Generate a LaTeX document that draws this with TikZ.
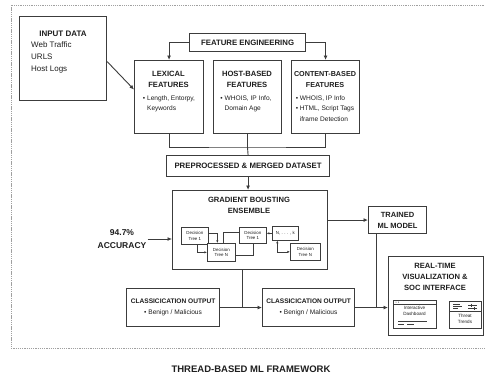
\documentclass[tikz,border=0pt]{standalone}
\usepackage{fontspec}
\setmainfont{Liberation Sans}
\usepackage{xcolor}
\usetikzlibrary{arrows.meta, positioning}

\definecolor{linegray}{HTML}{3C3C3C}
\definecolor{txtgray}{HTML}{1E1E1E}
\definecolor{framegray}{HTML}{A0A0A0}

\tikzset{
  box/.style={draw=linegray, line width=1.15pt, fill=white, anchor=north west, inner sep=0pt, align=center, text=txtgray},
  treebox/.style={draw=linegray, line width=0.65pt, fill=white, anchor=north west, inner sep=0pt, align=center, text=txtgray, font=\fontsize{4.4}{5.4}\selectfont},
  ttl/.style={font=\bfseries\fontsize{7.6}{11}\selectfont, text=txtgray, align=center, inner sep=0pt},
  txt/.style={font=\fontsize{6.6}{10.5}\selectfont, text=txtgray, align=left, inner sep=0pt},
  arr/.style={draw=linegray, line width=0.9pt, -{Latex[length=4.5pt,width=4pt]}},
  con/.style={draw=linegray, line width=0.9pt},
  tarr/.style={draw=linegray, line width=0.55pt, -{Latex[length=2.6pt,width=2.3pt]}},
  tcon/.style={draw=linegray, line width=0.55pt},
}

\begin{document}
\begin{tikzpicture}[x=1pt, y=-1pt]
    \useasboundingbox (0,0) rectangle (485,376);
    \fill[white] (0,0) rectangle (485,376);

    % frame
    \draw[framegray, line width=0.7pt, dash pattern=on 1.3pt off 0.9pt] (11,5) rectangle (495,348);

    % input data
    \node[box, minimum width=87, minimum height=84] (inp) at (19,16) {};
    \node[ttl, font=\bfseries\fontsize{8}{11}\selectfont] (inpT) at (63,34) {INPUT DATA};
    \node[txt, font=\fontsize{8}{12}\selectfont, anchor=west] (inpL) at (31,57) {Web Traffic\\URLS\\Host Logs};

    % feature engineering
    \node[box, minimum width=116, minimum height=18, font=\bfseries\fontsize{7.8}{10}\selectfont] (fe) at (189,33) {FEATURE ENGINEERING};

    \node[box, minimum width=69, minimum height=73] (lex) at (134,60) {};
    \node[ttl] (lexT) at (168.5,79.5) {LEXICAL\\FEATURES};
    \node[txt] (lexL) at (169,104) {• Length, Entorpy,\\\hphantom{• }Keywords};

    \node[box, minimum width=68, minimum height=73] (host) at (213,60) {};
    \node[ttl] (hostT) at (247,79.5) {HOST-BASED\\FEATURES};
    \node[txt] (hostL) at (246,104) {• WHOIS, IP Info,\\\hphantom{• }Domain Age};

    \node[box, minimum width=68, minimum height=73] (cont) at (291,60) {};
    \node[ttl, font=\bfseries\fontsize{7.2}{11}\selectfont] (contT) at (325,79.5) {CONTENT-BASED\\FEATURES};
    \node[txt] (contL) at (325,108.5) {• WHOIS, IP Info\\• HTML, Script Tags\\\hphantom{• }iframe Detection};

    \coordinate (inpA) at ([yshift=-3pt]inp.east);
    \draw[arr] (inpA) -- ([yshift=7.5pt]lex.west);
    \draw[arr] (fe.west) -| (lex.north);
    \draw[arr] (fe.east) -| (cont.north);

    % merge
    \coordinate (fuse) at (247.5,147);
    \draw[con] (lex.south) |- (fuse) -| (cont.south);
    \draw[con] (host.south) -- (host.south |- fuse);

    \node[box, minimum width=163, minimum height=21, font=\bfseries\fontsize{7.8}{10}\selectfont] (prep) at (166,155) {PREPROCESSED \& MERGED DATASET};
    \draw[con] (fuse) -- (prep.north);

    % gradient boosting
    \node[box, minimum width=155, minimum height=79] (gbe) at (172,190) {};
    \node[ttl] (gbeT) at (249,205) {GRADIENT BOUSTING\\ENSEMBLE};
    \draw[arr] (prep.south) -- (prep.south |- gbe.north);

    \node[treebox, minimum width=27, minimum height=17] (t1a) at (181,227) {Decision\\Tree 1};
    \node[treebox, minimum width=28, minimum height=18] (tna) at (207,243) {Decision\\Tree N};
    \node[treebox, minimum width=27, minimum height=16] (t1b) at (239,227) {Decision\\Tree 1};
    \node[treebox, minimum width=26, minimum height=14] (tnk) at (272,226) {N, . . . , k};
    \node[treebox, minimum width=30, minimum height=17] (tnb) at (290,243) {Decision\\Tree N};

    \draw[tarr] ([yshift=3pt]t1a.east) -| ([xshift=-4pt]tna.north);
    \draw[tarr] ([xshift=2.5pt]t1a.south) |- (tna.west);
    \draw[tcon] ([xshift=2pt]tna.north) |- ([yshift=3pt]t1b.west);
    \draw[tcon] ([yshift=-3pt]tna.east) -| (t1b.south);
    \draw[tarr] (tnk.west) -- (tnk.west -| t1b.east);
    \draw[tarr, {Latex[length=2.6pt,width=2.3pt]}-{Latex[length=2.6pt,width=2.3pt]}] ([xshift=-8pt]tnk.south) |- (tnb.west);

    % accuracy
    \node[ttl, font=\bfseries\fontsize{8.5}{13}\selectfont] (acc) at (122,239) {94.7\%\\ACCURACY};
    \draw[arr] ([xshift=1pt]acc.east) -- (acc.east -| gbe.west);

    % trained model
    \node[box, minimum width=58, minimum height=27, font=\bfseries\fontsize{7.5}{11}\selectfont] (tml) at (368,206) {TRAINED\\ML MODEL};
    \draw[arr] (gbe.east |- tml.west) -- (tml.west);

    % classification
    \node[box, minimum width=93, minimum height=38, font=\fontsize{6.6}{11}\selectfont] (cl1) at (126,288) {\textbf{CLASSICICATION OUTPUT}\\• Benign / Malicious};
    \node[box, minimum width=92, minimum height=38, font=\fontsize{6.6}{11}\selectfont] (cl2) at (262,288) {\textbf{CLASSICICATION OUTPUT}\\• Benign / Malicious};

    % real-time interface
    \node[box, minimum width=95, minimum height=79] (rt) at (388,256) {};
    \node[ttl] (rtT) at (435,277) {REAL-TIME\\VISUALIZATION \&\\SOC INTERFACE};

    \coordinate (j1) at (242,307);
    \coordinate (j2) at (376,307);
    \draw[con] (gbe.south -| j1) -- (j1);
    \draw[arr] (cl1.east) -- (cl2.west);
    \draw[con] (tml.south -| j2) -- (j2);
    \draw[arr] (cl2.east) -- (cl2.east -| rt.west);

    % dashboard panels
    \node[treebox, minimum width=43, minimum height=28, line width=0.75pt] (dsh) at (393,300) {};
    \node[treebox, font=\fontsize{4.6}{5.8}\selectfont] (dshT) at (414.5,311) [anchor=center, draw=none, fill=none] {Interactive\\Dashboard};
    \draw[tcon] (393,304) -- (436,304);
    \fill[linegray] (396,302) circle (0.5) (398.5,302) circle (0.5);
    \draw[tcon, line width=0.6pt] (398,321) -- (427,321);
    \draw[tcon, line width=0.6pt] (398,324.5) -- (404,324.5) (407,324.5) -- (414,324.5);

    \node[treebox, minimum width=32, minimum height=27, line width=0.75pt] (thr) at (449,301) {};
    \node[treebox, font=\fontsize{4.6}{5.8}\selectfont] (thrT) at (465,319) [anchor=center, draw=none, fill=none] {Threat\\Trends};
    \draw[tcon] (449,311) -- (481,311);
    \draw[tcon] (453,304) -- (460,304) (453,306.2) -- (462,306.2) (453,308.4) -- (458,308.4);
    \draw[tcon] (468,305) -- (477,305) (468,308) -- (477,308);
    \draw[tcon] (471,303.5) -- (471,306.5) (474.5,306.5) -- (474.5,309.5);

    % framework title
    \node[ttl, font=\bfseries\fontsize{9.5}{11}\selectfont] (fwk) at (251,369) {THREAD-BASED ML FRAMEWORK};
\end{tikzpicture}
\end{document}
